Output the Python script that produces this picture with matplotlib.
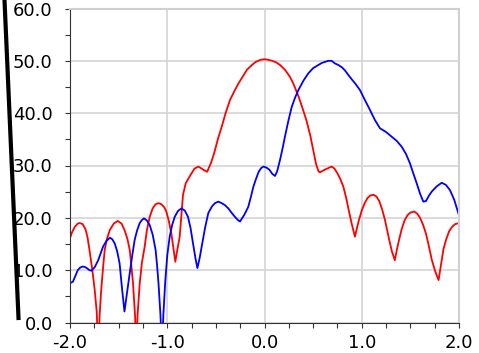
import numpy as np
import matplotlib
matplotlib.use('Agg')
import matplotlib.pyplot as plt
from matplotlib.ticker import MultipleLocator, FormatStrFormatter
from matplotlib.lines import Line2D

# pattern 1 (steered to broadside)
red_x = [-2.0, -1.98, -1.95, -1.92, -1.90, -1.87, -1.84, -1.82, -1.80, -1.77,
         -1.746, -1.725, -1.71, -1.695, -1.68, -1.66, -1.643, -1.62, -1.59, -1.55,
         -1.51, -1.47, -1.44, -1.41, -1.386, -1.37, -1.352, -1.33, -1.318, -1.305,
         -1.283, -1.26, -1.232, -1.21, -1.18, -1.15, -1.12, -1.09, -1.06, -1.03,
         -1.01, -0.985, -0.958, -0.935, -0.917, -0.90, -0.872, -0.855, -0.838, -0.81,
         -0.77, -0.72, -0.68, -0.63, -0.59, -0.55, -0.52, -0.48, -0.44, -0.40,
         -0.355, -0.31, -0.27, -0.22, -0.18, -0.13, -0.09, -0.04, 0.0, 0.04,
         0.08, 0.12, 0.16, 0.21, 0.26, 0.30, 0.35, 0.39, 0.43, 0.47,
         0.50, 0.53, 0.555, 0.57, 0.62, 0.69, 0.72, 0.75, 0.78, 0.81,
         0.84, 0.86, 0.895, 0.93, 0.95, 0.97, 1.00, 1.03, 1.06, 1.09,
         1.12, 1.15, 1.18, 1.21, 1.24, 1.28, 1.31, 1.34, 1.36, 1.38,
         1.41, 1.44, 1.47, 1.50, 1.54, 1.57, 1.60, 1.63, 1.66, 1.69,
         1.72, 1.755, 1.79, 1.81, 1.84, 1.87, 1.90, 1.93, 1.96, 2.0]
red_y = [16.1, 17.2, 18.3, 18.9, 19.0, 18.8, 17.8, 16.3, 13.9, 10.0,
         6.2, 2.0, -6.0, 1.5, 6.0, 10.5, 13.9, 16.0, 17.7, 18.9,
         19.4, 18.9, 17.7, 16.0, 13.9, 11.0, 7.5, 1.0, -6.0, 1.5,
         7.5, 11.5, 14.5, 17.6, 20.2, 21.8, 22.6, 22.8, 22.6, 22.0,
         21.2, 19.5, 17.0, 14.0, 11.6, 13.5, 16.4, 20.5, 24.4, 26.6,
         27.9, 29.4, 29.8, 29.2, 28.8, 30.5, 32.2, 35.0, 37.4, 40.0,
         42.5, 44.2, 45.6, 47.1, 48.3, 49.2, 49.8, 50.2, 50.3, 50.2,
         50.0, 49.7, 49.2, 48.3, 47.0, 45.5, 43.2, 41.0, 38.7, 35.8,
         33.0, 30.3, 28.9, 28.7, 29.2, 29.8, 29.4, 28.5, 27.4, 26.0,
         23.8, 22.0, 19.0, 16.4, 18.0, 19.5, 21.4, 22.8, 23.8, 24.3,
         24.4, 24.1, 23.2, 21.6, 19.5, 16.0, 13.6, 11.9, 13.8, 15.5,
         17.8, 19.5, 20.5, 21.0, 21.2, 20.8, 20.0, 18.7, 17.0, 14.6,
         12.0, 9.8, 8.1, 10.5, 14.0, 16.0, 17.5, 18.3, 18.8, 19.0]

# pattern 2 (steered off axis)
blue_x = [-2.0, -1.97, -1.945, -1.92, -1.895, -1.87, -1.845, -1.82, -1.80, -1.78,
          -1.745, -1.71, -1.685, -1.66, -1.625, -1.59, -1.565, -1.54, -1.515, -1.49,
          -1.465, -1.44, -1.415, -1.386, -1.36, -1.335, -1.31, -1.283, -1.26, -1.239,
          -1.21, -1.18, -1.15, -1.12, -1.105, -1.09, -1.07, -1.054, -1.04, -1.02,
          -1.0, -0.975, -0.95, -0.923, -0.89, -0.855, -0.82, -0.787, -0.76, -0.735,
          -0.71, -0.69, -0.668, -0.646, -0.61, -0.578, -0.54, -0.51, -0.475, -0.44,
          -0.405, -0.372, -0.34, -0.30, -0.275, -0.252, -0.21, -0.167, -0.14, -0.115,
          -0.09, -0.06, -0.035, -0.012, 0.02, 0.05, 0.08, 0.108, 0.13, 0.16,
          0.185, 0.21, 0.245, 0.28, 0.315, 0.348, 0.40, 0.45, 0.50, 0.553,
          0.59, 0.622, 0.655, 0.69, 0.725, 0.76, 0.80, 0.83, 0.862, 0.90,
          0.94, 0.982, 1.03, 1.085, 1.135, 1.188, 1.25, 1.308, 1.36, 1.41,
          1.455, 1.496, 1.53, 1.565, 1.60, 1.633, 1.66, 1.69, 1.719, 1.77,
          1.822, 1.865, 1.907, 1.95, 1.993, 2.0]
blue_y = [7.5, 7.8, 8.9, 10.0, 10.5, 10.7, 10.6, 10.3, 10.0, 9.9,
          10.6, 11.9, 13.2, 14.5, 15.6, 16.2, 15.9, 15.1, 13.6, 11.3,
          6.5, 2.1, 5.5, 9.4, 12.8, 15.8, 17.6, 19.0, 19.6, 19.9,
          19.5, 18.6, 16.8, 13.9, 11.0, 7.5, 1.5, -6.0, 1.5, 8.0,
          12.8, 16.4, 18.6, 20.2, 21.3, 21.8, 21.4, 20.2, 18.0, 15.1,
          12.3, 10.4, 12.2, 14.5, 18.2, 20.9, 22.2, 22.8, 23.1, 22.8,
          22.4, 21.8, 21.0, 20.1, 19.6, 19.3, 20.5, 22.1, 24.0, 25.9,
          27.3, 28.8, 29.5, 29.8, 29.6, 29.2, 28.4, 28.0, 28.9, 31.1,
          33.2, 35.5, 38.5, 41.2, 43.0, 44.4, 46.2, 47.6, 48.6, 49.2,
          49.6, 49.8, 50.0, 50.0, 49.5, 49.2, 48.7, 48.1, 47.3, 46.4,
          45.5, 44.4, 42.6, 40.6, 38.7, 37.1, 36.4, 35.5, 34.7, 33.6,
          32.2, 30.4, 28.5, 26.6, 24.6, 23.1, 23.2, 24.2, 25.0, 26.0,
          26.7, 26.3, 25.3, 23.5, 20.9, 20.5]

x_ticks = [-2.0, -1.0, 0.0, 1.0, 2.0]
y_ticks = [0, 10, 20, 30, 40, 50, 60]

plt.rcParams['font.family'] = 'DejaVu Sans'

fig = plt.figure(figsize=(4.79, 3.53), dpi=100)
ax = fig.add_axes([70/479, 1 - 322.5/353, 389/479, 314/353])

ax.plot(red_x, red_y, '-', color='#ff0000', lw=1.3, solid_joinstyle='round')
ax.plot(blue_x, blue_y, '-', color='#0000ff', lw=1.3, solid_joinstyle='round')

ax.set_xlim(-2, 2)
ax.set_ylim(0, 60)
ax.set_xticks(x_ticks)
ax.set_yticks(y_ticks)
ax.xaxis.set_minor_locator(MultipleLocator(0.25))
ax.yaxis.set_minor_locator(MultipleLocator(5))
ax.xaxis.set_major_formatter(FormatStrFormatter('%.1f'))
ax.yaxis.set_major_formatter(FormatStrFormatter('%.1f'))

ax.grid(True, which='major', color='#d4d4d4', lw=1.2)
ax.set_axisbelow(True)

for side in ('left', 'bottom'):
    ax.spines[side].set_color('#333333')
for side in ('top', 'right'):
    ax.spines[side].set_color('#d0d0d0')
    ax.spines[side].set_linewidth(1.5)

ax.tick_params(which='both', direction='out', length=3.5, width=0.8,
               color='#333333', labelsize=13)
ax.tick_params(axis='y', pad=9)
ax.tick_params(axis='x', pad=5)

# heavy stroke along the left margin
fig.add_artist(Line2D([4.5/479, 18.5/479], [1.0, 1 - 318/353],
                      color='black', lw=3.0, transform=fig.transFigure))

fig.savefig('out.png', dpi=100)
